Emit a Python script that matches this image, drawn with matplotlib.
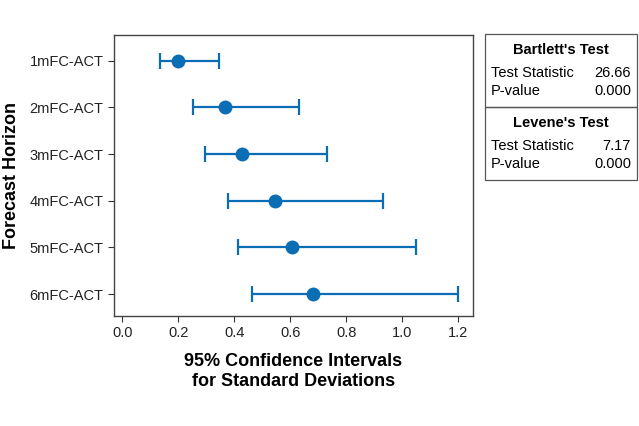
import matplotlib
matplotlib.use("Agg")
import matplotlib.pyplot as plt
from matplotlib.patches import Rectangle

plt.rcParams['font.family'] = ['Liberation Sans', 'DejaVu Sans']

categories = ["1mFC-ACT", "2mFC-ACT", "3mFC-ACT", "4mFC-ACT", "5mFC-ACT", "6mFC-ACT"]
point = [0.200, 0.368, 0.426, 0.545, 0.607, 0.682]
lower = [0.133, 0.251, 0.295, 0.377, 0.413, 0.462]
upper = [0.345, 0.629, 0.729, 0.929, 1.050, 1.200]
xticks = [0.0, 0.2, 0.4, 0.6, 0.8, 1.0, 1.2]

bartlett_stat = "26.66"
bartlett_p = "0.000"
levene_stat = "7.17"
levene_p = "0.000"

W, H = 639, 426
fig = plt.figure(figsize=(W / 100, H / 100), dpi=100)
ax = fig.add_axes([114 / W, 1 - 316 / H, (472.7 - 114) / W, (316 - 35) / H])

color = "#0b6db3"
ypos = list(range(len(categories)))
xerr = [[p - l for p, l in zip(point, lower)], [u - p for p, u in zip(point, upper)]]
ax.errorbar(point, ypos, xerr=xerr, fmt='o', color=color, ecolor=color,
            elinewidth=1.6, capsize=6, capthick=1.6, markersize=9)

ax.set_yticks(ypos)
ax.set_yticklabels(categories, fontsize=10.5, color="#222222")
ax.set_ylim(5.47, -0.55)
ax.set_xlim(-0.03, 1.251)
ax.set_xticks(xticks)
ax.set_xticklabels([f"{t:.1f}" for t in xticks], fontsize=10.5, color="#222222")
ax.tick_params(axis='both', direction='out', length=4, width=0.8, color="#333333")
for s in ax.spines.values():
    s.set_color("#444444")
    s.set_linewidth(1.0)

ax.set_xlabel("95% Confidence Intervals\nfor Standard Deviations", fontsize=13,
              fontweight='bold', labelpad=9, linespacing=1.2)
ax.set_ylabel("Forecast Horizon", fontsize=13, fontweight='bold', labelpad=7)

# Test result boxes
def px(x, y):
    return x / W, 1 - y / H

x0, x1 = 485, 637
for (ytop, ybot) in [(34, 107), (107, 180)]:
    r = Rectangle(px(x0, ybot), (x1 - x0) / W, (ybot - ytop) / H,
                  transform=fig.transFigure, fill=False, edgecolor="#555555", linewidth=0.9)
    fig.patches.append(r)

def block(ytop, title, stat, pval):
    fig.text(*px((x0 + x1) / 2, ytop + 16), title, ha='center', va='center',
             fontsize=10.5, fontweight='bold')
    fig.text(*px(x0 + 6, ytop + 39), "Test Statistic", ha='left', va='center', fontsize=10.5)
    fig.text(*px(x1 - 6, ytop + 39), stat, ha='right', va='center', fontsize=10.5)
    fig.text(*px(x0 + 6, ytop + 57), "P-value", ha='left', va='center', fontsize=10.5)
    fig.text(*px(x1 - 6, ytop + 57), pval, ha='right', va='center', fontsize=10.5)

block(34, "Bartlett's Test", bartlett_stat, bartlett_p)
block(107, "Levene's Test", levene_stat, levene_p)

fig.savefig("out.png", dpi=100)
